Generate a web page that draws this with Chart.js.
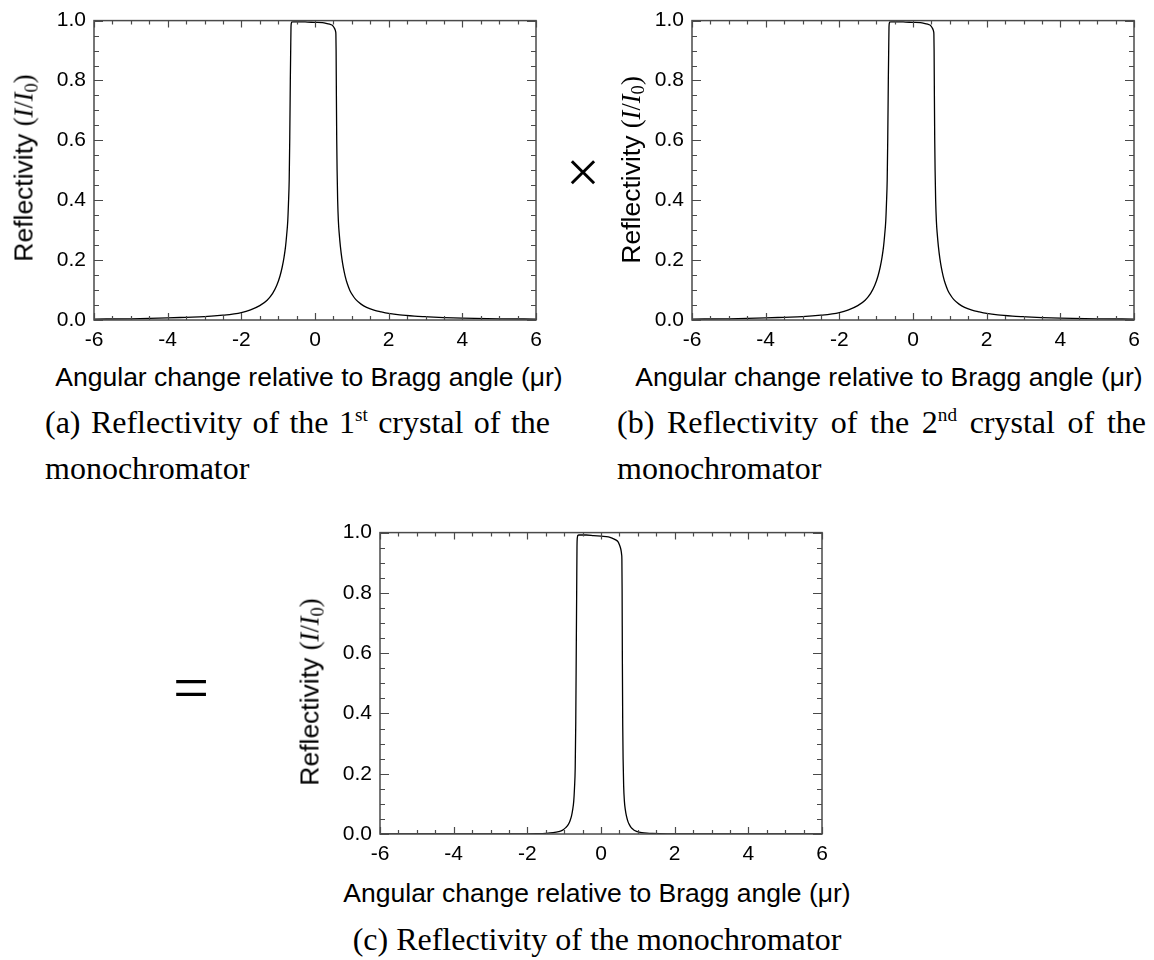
<!DOCTYPE html>
<html>
<head>
<meta charset="utf-8">
<script src="https://cdn.jsdelivr.net/npm/chart.js@4"></script>
<style>
  html, body { margin: 0; padding: 0; background: #fff; overflow: hidden; }
  body { position: relative; width: 1154px; height: 960px; }
  canvas { position: absolute; }
  .ytitle {
    position: absolute; white-space: nowrap;
    font: 26.5px "Liberation Sans", Arial, sans-serif; color: #000;
    transform: translate(-50%, -50%) rotate(-90deg);
  }
  .ytitle .s { font-family: "Liberation Serif", "Times New Roman", serif; }
  .ytitle i { font-family: "Liberation Serif", "Times New Roman", serif; }
  .ytitle sub { font-size: 0.7em; vertical-align: -0.25em; line-height: 0; }
  .xtitle {
    position: absolute; white-space: nowrap; line-height: 26px;
    font: 26.5px "Liberation Sans", Arial, sans-serif; color: #000;
    transform: translateX(-50%);
  }
  .cap {
    position: absolute;
    font: 32px/46px "Liberation Serif", "Times New Roman", serif; color: #000;
  }
  .cap .l1 { text-align: justify; text-align-last: justify; white-space: nowrap; }
  .cap sup { font-size: 0.6em; vertical-align: 0.6em; line-height: 0; }
  .op { position: absolute; font-family: "Liberation Serif", "Times New Roman", serif; line-height: 1; transform: translate(-50%, -50%); }
</style>
</head>
<body>
<canvas id="chartA" width="520" height="360" style="left:40px; top:0px;"></canvas>
<canvas id="chartB" width="516" height="360" style="left:638px; top:0px;"></canvas>
<canvas id="chartC" width="520" height="362" style="left:326px; top:512px;"></canvas>

<div class="ytitle" style="left:24px; top:168px;">Reflectivity <span class="s">(<i>I</i>/<i>I</i><sub>0</sub>)</span></div>
<div class="ytitle" style="left:631px; top:170px;">Reflectivity <span class="s">(<i>I</i>/<i>I</i><sub>0</sub>)</span></div>
<div class="ytitle" style="left:310px; top:692px;">Reflectivity <span class="s">(<i>I</i>/<i>I</i><sub>0</sub>)</span></div>

<div class="xtitle" style="left:309px; top:362px;">Angular change relative to Bragg angle (μr)</div>
<div class="xtitle" style="left:889px; top:362px;">Angular change relative to Bragg angle (μr)</div>
<div class="xtitle" style="left:597px; top:878px;">Angular change relative to Bragg angle (μr)</div>

<div class="op" style="left:583px; top:172px; font-size:60px;">×</div>
<div class="op" style="left:191px; top:688px; font-size:64px;">=</div>

<div class="cap" style="left:45px; top:399px; width:505px;">
  <div class="l1">(a) Reflectivity of the 1<sup>st</sup> crystal of the</div>
  <div>monochromator</div>
</div>
<div class="cap" style="left:617px; top:399px; width:529px;">
  <div class="l1">(b) Reflectivity of the 2<sup>nd</sup> crystal of the</div>
  <div>monochromator</div>
</div>
<div class="cap" style="left:597px; top:916px; transform:translateX(-50%); white-space:nowrap;">(c) Reflectivity of the monochromator</div>

<script>
// angular offset from the Bragg angle (microradian)
const angle = [-6, -5, -4, -3.5, -3, -2.5, -2, -1.75, -1.5, -1.3, -1.15, -1.04, -0.95, -0.89, -0.84,
  -0.8, -0.77, -0.74, -0.72, -0.7, -0.685, -0.67, -0.66, -0.652, -0.645, -0.638, -0.632, -0.6, -0.4,
  -0.2, 0, 0.2, 0.3, 0.4, 0.46, 0.5, 0.53, 0.55, 0.56, 0.567, 0.573, 0.58, 0.59, 0.6, 0.615, 0.635,
  0.66, 0.69, 0.73, 0.77, 0.82, 0.88, 0.95, 1.03, 1.11, 1.25, 1.4, 1.6, 1.8, 2.0, 2.3, 2.7, 3.0, 3.5,
  4.0, 5.0, 6.0];

// (a) first crystal
const reflCrystal1 = [0.003, 0.004, 0.007, 0.009, 0.011, 0.016, 0.025, 0.034, 0.048, 0.066, 0.089, 0.115,
  0.147, 0.177, 0.21, 0.245, 0.283, 0.33, 0.39, 0.47, 0.61, 0.80, 0.90, 0.975, 0.99, 0.993, 0.995, 0.996,
  0.996, 0.995, 0.994, 0.993, 0.991, 0.988, 0.985, 0.980, 0.974, 0.968, 0.963, 0.955, 0.90, 0.76, 0.60,
  0.50, 0.40, 0.33, 0.285, 0.245, 0.205, 0.175, 0.146, 0.120, 0.098, 0.081, 0.068, 0.053, 0.042, 0.033,
  0.027, 0.022, 0.017, 0.013, 0.011, 0.008, 0.006, 0.004, 0.003];

// (b) second crystal
const reflCrystal2 = [0.003, 0.004, 0.007, 0.009, 0.011, 0.016, 0.025, 0.034, 0.048, 0.066, 0.089, 0.115,
  0.147, 0.177, 0.21, 0.245, 0.283, 0.33, 0.39, 0.47, 0.61, 0.80, 0.90, 0.975, 0.99, 0.993, 0.995, 0.996,
  0.996, 0.995, 0.994, 0.993, 0.991, 0.988, 0.985, 0.980, 0.974, 0.968, 0.963, 0.955, 0.90, 0.76, 0.60,
  0.50, 0.40, 0.33, 0.285, 0.245, 0.205, 0.175, 0.146, 0.120, 0.098, 0.081, 0.068, 0.053, 0.042, 0.033,
  0.027, 0.022, 0.017, 0.013, 0.011, 0.008, 0.006, 0.004, 0.003];

// (c) whole monochromator
const reflMono = [0, 0, 0, 0.0001, 0.0001, 0.0003, 0.0006, 0.0012, 0.0023, 0.0044, 0.0079, 0.013,
  0.022, 0.031, 0.044, 0.060, 0.080, 0.109, 0.152, 0.221, 0.372, 0.64, 0.81, 0.95, 0.98, 0.986, 0.99, 0.992,
  0.992, 0.99, 0.988, 0.986, 0.982, 0.976, 0.970, 0.960, 0.949, 0.937, 0.927, 0.912, 0.81, 0.58, 0.36,
  0.25, 0.16, 0.109, 0.081, 0.060, 0.042, 0.031, 0.021, 0.0144, 0.0096, 0.0066, 0.0046, 0.0028, 0.0018, 0.0011,
  0.0007, 0.0005, 0.0003, 0.0002, 0.0001, 0.0001, 0, 0, 0];

const xTicks = [-6, -4, -2, 0, 2, 4, 6];
const yTicks = [0, 0.2, 0.4, 0.6, 0.8, 1.0];

const frameColor = '#4a4a4a';
const tickFont = { family: '"Liberation Sans", Arial, sans-serif', size: 21 };

// box around the plot with inward major/minor ticks on all four sides
const frameTicks = {
    id: 'frameTicks',
    afterDraw(chart) {
        const { ctx, chartArea: a, scales: { x, y } } = chart;
        ctx.save();
        ctx.strokeStyle = frameColor;
        ctx.lineWidth = 1.5;
        ctx.strokeRect(a.left, a.top, a.right - a.left, a.bottom - a.top);
        ctx.lineWidth = 1.2;
        ctx.beginPath();
        for (let i = 0; i <= 24; i++) {
            const px = Math.round(x.getPixelForValue(-6 + i * 0.5)) + 0.5;
            const len = i % 4 === 0 ? 7 : 4;
            ctx.moveTo(px, a.bottom); ctx.lineTo(px, a.bottom - len);
            ctx.moveTo(px, a.top); ctx.lineTo(px, a.top + len);
        }
        for (let i = 0; i <= 20; i++) {
            const py = Math.round(y.getPixelForValue(i * 0.05)) + 0.5;
            const len = i % 4 === 0 ? 9 : 5;
            ctx.moveTo(a.left, py); ctx.lineTo(a.left + len, py);
            ctx.moveTo(a.right, py); ctx.lineTo(a.right - len, py);
        }
        ctx.stroke();
        ctx.restore();
    }
};

function makeChart(id, values, padRight, xHeight) {
    const ctx = document.getElementById(id).getContext('2d');
    return new Chart(ctx, {
        type: 'line',
        data: {
            datasets: [{
                data: angle.map((a, i) => ({ x: a, y: values[i] })),
                borderColor: '#000',
                borderWidth: 1.3,
                pointRadius: 0,
                cubicInterpolationMode: 'monotone',
                fill: false,
            }]
        },
        options: {
            responsive: false,
            animation: false,
            devicePixelRatio: 1,
            layout: { padding: { top: 14, right: padRight, left: 0, bottom: 0 } },
            plugins: { legend: { display: false }, tooltip: { enabled: false } },
            scales: {
                x: {
                    type: 'linear', min: -6, max: 6,
                    afterBuildTicks: s => { s.ticks = xTicks.map(v => ({ value: v })); },
                    afterFit: s => { s.height = xHeight; },
                    grid: { display: false, drawTicks: false },
                    border: { display: false },
                    ticks: { color: '#000', font: tickFont, padding: 8, maxRotation: 0, autoSkip: false },
                },
                y: {
                    type: 'linear', min: 0, max: 1,
                    afterBuildTicks: s => { s.ticks = yTicks.map(v => ({ value: v })); },
                    afterFit: s => { s.width = 54; },
                    grid: { display: false, drawTicks: false },
                    border: { display: false },
                    ticks: { color: '#000', font: tickFont, padding: 8, callback: v => v.toFixed(1) },
                }
            }
        },
        plugins: [frameTicks]
    });
}

makeChart('chartA', reflCrystal1, 24, 40);
makeChart('chartB', reflCrystal2, 20, 40);
makeChart('chartC', reflMono, 24, 40);
</script>
</body>
</html>
